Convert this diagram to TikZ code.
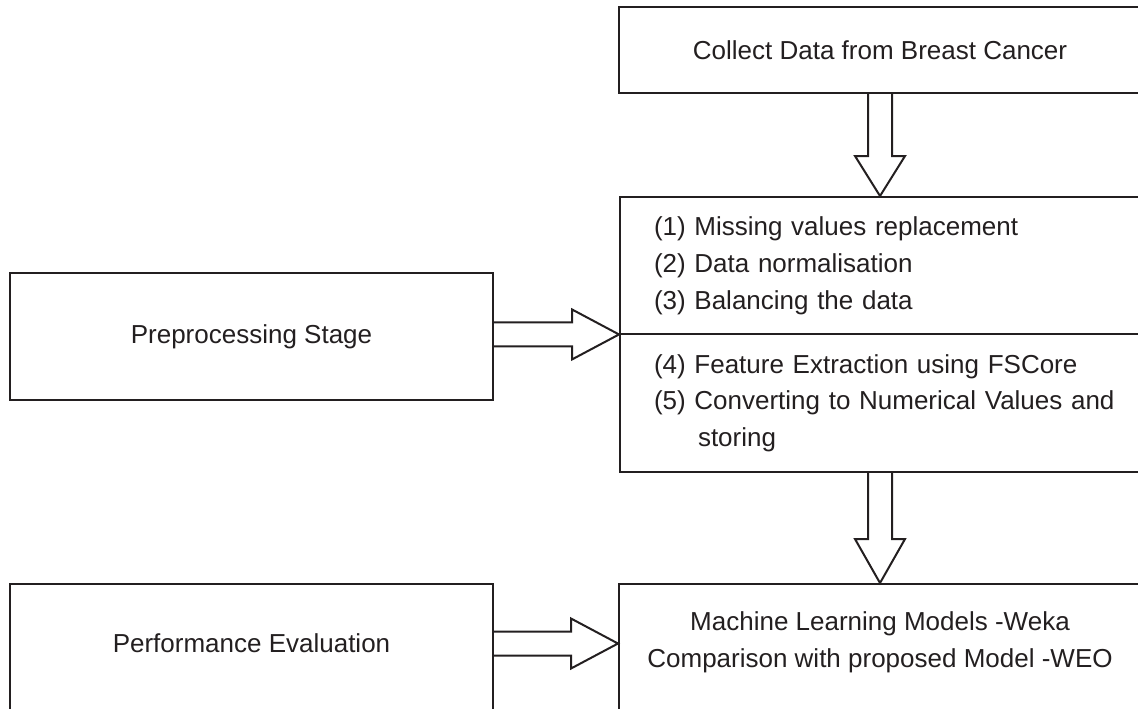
\documentclass[tikz,border=0pt]{standalone}
\usepackage{fontspec}
\setmainfont{Liberation Sans}
\usetikzlibrary{calc,shapes.multipart}
\definecolor{ink}{HTML}{231F20}

\begin{document}
\begin{tikzpicture}[x=0.5pt, y=-0.5pt,
    stage/.style={draw=ink, line width=1pt, rectangle, inner sep=0pt, text=ink,
        font=\fontsize{13}{18.4}\selectfont},
    label text/.style={text=ink, align=center, font=\fontsize{13}{18.4}\selectfont},
    hollow/.style={draw=ink, line width=1pt, line join=miter}]
    \useasboundingbox (0,0) rectangle (1138,708);
    \clip (0,0) rectangle (1138,708);

    \node[stage, minimum width=261pt, minimum height=43pt] (collect) at (880,50) {Collect Data from Breast Cancer};
    \node[stage, anchor=north west, rectangle split, rectangle split parts=2, text width=250pt, align=left,
        inner xsep=17pt, inner ysep=9.4pt] (steps) at (619,196)
        {(1) Missing values replacement\\(2) Data normalisation\\(3) Balancing the data
        \nodepart{two}(4) Feature Extraction using FSCore\\(5) Converting to Numerical Values and\\\hspace*{22pt}storing};
    \node[stage, anchor=north, minimum width=261pt, minimum height=100pt] (model) at (880,583) {};
    \node[label text] (modeltxt) at (880,642) {Machine Learning Models -Weka\\Comparison with proposed Model -WEO};
    \node[stage, minimum width=241.5pt, minimum height=63.5pt] (prep) at (251.5,336.5) {Preprocessing Stage};
    \node[stage, anchor=north, minimum width=241.5pt, minimum height=100pt] (perf) at (251.5,583) {};
    \node[label text] (perftxt) at (251.5,643.5) {Performance Evaluation};

    \coordinate (dtip) at (collect.south |- steps.north);
    \coordinate (dbase) at (collect.south |- steps.south);
    \coordinate (ptip) at (steps.text split west);
    \coordinate (pbase) at (prep.east |- ptip);
    \coordinate (etip) at (model.west |- perftxt);
    \coordinate (ebase) at (perf.east |- perftxt);

    % block arrows
    \draw[hollow] ($(collect.south)+(-12,0)$) -- ($(dtip)+(-12,-40)$) -- ($(dtip)+(-25,-40)$)
        -- (dtip) -- ($(dtip)+(25,-40)$) -- ($(dtip)+(12,-40)$) -- ($(collect.south)+(12,0)$);
    \draw[hollow] ($(dbase)+(-12,0)$) -- ($(model.north)+(-12,-44)$) -- ($(model.north)+(-25,-44)$)
        -- (model.north) -- ($(model.north)+(25,-44)$) -- ($(model.north)+(12,-44)$) -- ($(dbase)+(12,0)$);
    \draw[hollow] ($(pbase)+(0,-12)$) -- ($(ptip)+(-47,-12)$) -- ($(ptip)+(-47,-25)$)
        -- (ptip) -- ($(ptip)+(-47,25)$) -- ($(ptip)+(-47,12)$) -- ($(pbase)+(0,12)$);
    \draw[hollow] ($(ebase)+(0,-12)$) -- ($(etip)+(-47,-12)$) -- ($(etip)+(-47,-25)$)
        -- (etip) -- ($(etip)+(-47,25)$) -- ($(etip)+(-47,12)$) -- ($(ebase)+(0,12)$);
\end{tikzpicture}
\end{document}
